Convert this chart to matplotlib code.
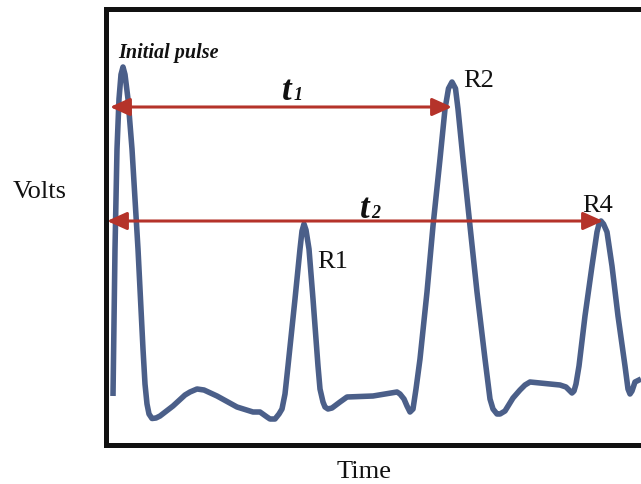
import matplotlib
matplotlib.use("Agg")
import matplotlib.pyplot as plt

# Waveform samples: time (arbitrary units) and voltage (arbitrary units)
time = [1.5, 1.9, 2.3, 2.7, 3.1, 3.5, 3.9, 4.5, 5.3, 6.5, 7.5, 7.9, 8.3, 8.7,
        9.3, 10.1, 10.9, 13.5, 15.9, 16.9, 18.3, 19.7, 22.3, 26.3, 29.5, 30.9,
        32.3, 32.9, 33.9, 34.7, 35.3, 35.9, 36.5, 37.9, 38.9, 39.3, 39.7, 40.1,
        40.7, 41.5, 42.5, 42.9, 43.5, 43.9, 44.5, 45.3, 46.9, 48.3, 53.5, 58.3,
        58.9, 59.7, 60.3, 60.9, 61.5, 62.1, 62.9, 64.3, 65.5, 66.9, 67.9, 68.6,
        69.3, 70.0, 70.5, 71.5, 72.9, 74.3, 75.9, 76.9, 77.5, 78.3, 78.9, 79.9,
        81.5, 82.9, 83.9, 84.9, 90.9, 92.1, 92.9, 93.3, 93.7, 94.1, 94.7, 95.9,
        97.3, 98.3, 98.7, 99.1, 99.6, 100.3, 101.3, 102.5, 103.9, 104.5, 104.9,
        105.3, 105.9, 107.1]
volts = [0.485, 1.955, 2.955, 3.455, 3.70, 3.775, 3.70, 3.455, 2.955, 1.955,
         0.955, 0.605, 0.405, 0.305, 0.26, 0.265, 0.285, 0.385, 0.495, 0.525,
         0.555, 0.545, 0.485, 0.375, 0.325, 0.325, 0.275, 0.255, 0.255, 0.305,
         0.355, 0.505, 0.785, 1.455, 1.955, 2.135, 2.205, 2.145, 1.955, 1.455,
         0.785, 0.555, 0.425, 0.375, 0.355, 0.365, 0.425, 0.475, 0.485, 0.525,
         0.505, 0.455, 0.385, 0.325, 0.355, 0.555, 0.855, 1.525, 2.185, 2.855,
         3.355, 3.56, 3.625, 3.56, 3.355, 2.855, 2.185, 1.525, 0.855, 0.455,
         0.355, 0.305, 0.305, 0.335, 0.465, 0.545, 0.595, 0.625, 0.595, 0.575,
         0.535, 0.515, 0.535, 0.605, 0.785, 1.285, 1.785, 2.125, 2.205, 2.235,
         2.205, 2.125, 1.785, 1.285, 0.785, 0.555, 0.505, 0.535, 0.625, 0.655]

# Interval markers: (start time, end time, level)
t1_span = (0.9, 69.3, 3.375)
t2_span = (0.3, 99.5, 2.235)

# Peak labels and their anchor positions (time, volts)
peak_labels = ["R1", "R2", "R4"]
peak_label_t = [42.3, 71.5, 95.3]
peak_label_v = [1.775, 3.585, 2.335]

serif = ["Liberation Serif", "DejaVu Serif"]
line_color = "#4b5f89"
arrow_color = "#b5332a"

fig = plt.figure(figsize=(6.41, 4.85), dpi=100)
ax = fig.add_axes([105.5 / 641, 39.5 / 485, 535.5 / 641, 435.5 / 485])
ax.set_xlim(0, 107.1)
ax.set_ylim(0, 4.355)

ax.plot(time, volts, color=line_color, lw=4.0, solid_joinstyle="round",
        solid_capstyle="butt", zorder=2)

for start, end, level in (t1_span, t2_span):
    ax.annotate("", xy=(end, level), xytext=(start, level),
                arrowprops=dict(arrowstyle="<|-|>,head_length=0.8,head_width=0.36",
                                color=arrow_color, lw=2.2, shrinkA=0, shrinkB=0,
                                mutation_scale=15),
                zorder=3)

# Interval names with subscripts
for x0, y0, sub in ((35.3, 3.455, "1"), (50.9, 2.275, "2")):
    ax.text(x0, y0, "t", family=serif, fontsize=25, fontweight="bold",
            style="italic", ha="left", va="baseline", color="#111111")
    ax.text(x0 + 2.3, y0, sub, family=serif, fontsize=13, fontweight="bold",
            style="italic", ha="left", va="baseline", color="#111111")

ax.text(2.5, 3.875, "Initial pulse", family=serif, fontsize=14.5,
        fontweight="bold", style="italic", ha="left", va="baseline",
        color="#111111")

for lab, tx, vy in zip(peak_labels, peak_label_t, peak_label_v):
    ax.text(tx, vy, lab, family=serif, fontsize=19, ha="left", va="baseline",
            color="#111111")

for side in ("left", "top", "bottom"):
    ax.spines[side].set_linewidth(3.6)
    ax.spines[side].set_color("#111111")
ax.spines["right"].set_visible(False)
ax.set_xticks([])
ax.set_yticks([])

fig.text(13 / 641, (485 - 198) / 485, "Volts", family=serif, fontsize=19,
         ha="left", va="baseline", color="#111111")
fig.text(364 / 641, (485 - 478) / 485, "Time", family=serif, fontsize=19,
         ha="center", va="baseline", color="#111111")

fig.savefig("out.png", dpi=100)
